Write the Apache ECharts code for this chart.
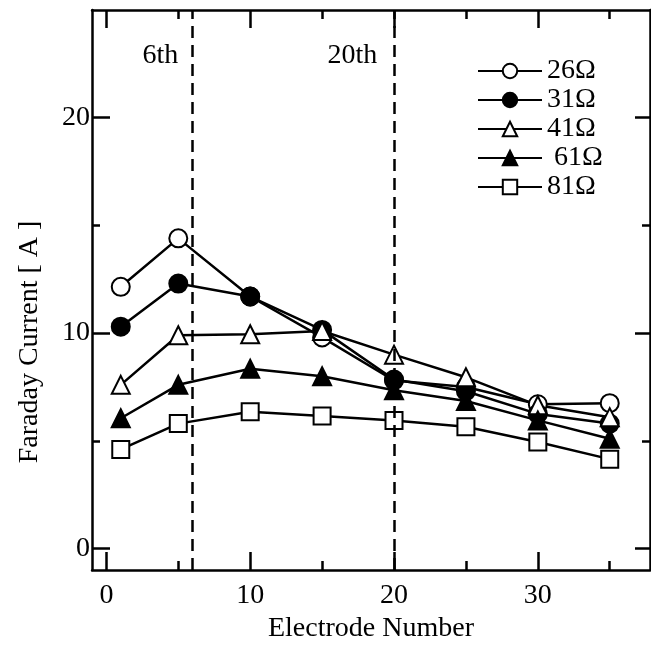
<!DOCTYPE html>
<html><head><meta charset="utf-8">
<script src="https://cdn.jsdelivr.net/npm/echarts@6/dist/echarts.min.js"></script>
<style>html,body{margin:0;padding:0;background:#fff}#c{width:651px;height:648px}</style>
</head><body><div id="c"></div>
<script>
// ---- data ----
const electrodes = [1, 5, 10, 15, 20, 25, 30, 35];
const r26 = [12.15, 14.4, 11.7, 9.8, 7.8, 7.5, 6.7, 6.75];
const r31 = [10.3, 12.3, 11.7, 10.15, 7.85, 7.3, 6.25, 5.8];
const r41 = [7.6, 9.9, 9.95, 10.1, 9.0, 7.95, 6.65, 6.1];
const r61 = [6.05, 7.6, 8.35, 8.0, 7.35, 6.85, 5.95, 5.1];
const r81 = [4.6, 5.8, 6.35, 6.15, 5.95, 5.65, 4.95, 4.15];
const seriesNames = ['26Ω', '31Ω', '41Ω', ' 61Ω', '81Ω'];
const xMajorTicks = [0, 10, 20, 30];
const xMinorTicks = [5, 15, 25, 35];
const yMajorTicks = [0, 10, 20];
const yMinorTicks = [5, 15];
const guideLines = [6, 20];
const guideLabels = ['6th', '20th'];
const guideLabelX = [3.75, 17.1];
const guideLabelY = [22.9, 22.9];
const xTitle = 'Electrode Number';
const yTitle = 'Faraday Current [ A ]';

// ---- styling ----
const font = "'Liberation Serif', 'Times New Roman', serif";
const FS = 28;
const values = [r26, r31, r41, r61, r81];
const markers = [
  { symbol: 'circle', fill: '#fff', size: 18 },
  { symbol: 'circle', fill: '#000', size: 18 },
  { symbol: 'triangle', fill: '#fff', size: 18 },
  { symbol: 'triangle', fill: '#000', size: 18 },
  { symbol: 'rect', fill: '#fff', size: 17 }
];
const X_MIN = -1, X_MAX = 37.8, Y_MIN = -1, Y_MAX = 25;
const lineCol = '#000';

function xAx(pos, ticks, len, main) {
  return {
    type: 'value', position: pos, min: X_MIN, max: X_MAX,
    axisLine: { show: main, onZero: false, lineStyle: { color: lineCol, width: 2.5 } },
    axisTick: { show: true, inside: true, length: len, customValues: ticks, lineStyle: { color: lineCol, width: 2.5 } },
    axisLabel: (main && pos === 'bottom') ? { show: true, customValues: ticks, margin: 12, fontSize: FS, fontFamily: font, color: '#000' } : { show: false },
    splitLine: { show: false },
    name: (main && pos === 'bottom') ? xTitle : '',
    nameLocation: 'middle', nameGap: 35,
    nameTextStyle: { fontSize: FS, fontFamily: font, color: '#000' }
  };
}
function yAx(pos, ticks, len, main) {
  return {
    type: 'value', position: pos, min: Y_MIN, max: Y_MAX,
    axisLine: { show: main, onZero: false, lineStyle: { color: lineCol, width: 2.5 } },
    axisTick: { show: true, inside: true, length: len, customValues: ticks, lineStyle: { color: lineCol, width: 2.5 } },
    axisLabel: (main && pos === 'left') ? { show: true, customValues: ticks, margin: 2, fontSize: FS, fontFamily: font, color: '#000' } : { show: false },
    splitLine: { show: false }
  };
}

const series = values.map((vals, i) => {
  const s = {
    name: seriesNames[i], type: 'line',
    xAxisIndex: 0, yAxisIndex: 0,
    data: electrodes.map((x, j) => [x, vals[j]]),
    symbol: markers[i].symbol, symbolSize: markers[i].size,
    showAllSymbol: true,
    lineStyle: { color: '#000', width: 2.5 },
    itemStyle: { color: markers[i].fill, borderColor: '#000', borderWidth: 2 },
    emphasis: { disabled: true },
    animation: false
  };
  if (i === 0) {
    s.markLine = {
      silent: true, symbol: ['none', 'none'], animation: false,
      label: { show: false },
      lineStyle: { type: [12, 7], color: '#000', width: 2.5 },
      data: guideLines.map(v => ({ xAxis: v }))
    };
    s.markPoint = {
      silent: true, animation: false,
      symbol: 'circle', symbolSize: 1,
      itemStyle: { color: 'rgba(0,0,0,0)' },
      label: { show: true, position: 'inside', formatter: '{b}', fontSize: FS, fontFamily: font, color: '#000' },
      data: guideLabels.map((t, k) => ({ name: t, coord: [guideLabelX[k], guideLabelY[k]] }))
    };
  }
  return s;
});

const chart = echarts.init(document.getElementById('c'), null, { renderer: 'canvas' });
chart.setOption({
  backgroundColor: '#fff',
  animation: false,
  grid: { left: 92, right: 1, top: 10, bottom: 67, containLabel: false },
  xAxis: [
    xAx('bottom', xMajorTicks, 18, true),
    xAx('bottom', xMinorTicks, 9, false),
    xAx('top', xMajorTicks, 18, true),
    xAx('top', xMinorTicks, 9, false)
  ],
  yAxis: [
    yAx('left', yMajorTicks, 18, true),
    yAx('left', yMinorTicks, 8, false),
    yAx('right', yMajorTicks, 15, true),
    yAx('right', yMinorTicks, 8, false)
  ],
  legend: {
    orient: 'vertical', left: 477, top: 57, padding: 0,
    itemWidth: 64, itemHeight: 18, itemGap: 1,
    textStyle: { fontSize: FS, fontFamily: font, color: '#000', lineHeight: 28 },
    data: seriesNames
  },
  graphic: [{
    type: 'text', x: 30, y: 342, rotation: Math.PI / 2,
    style: { text: yTitle, fontSize: FS, fontFamily: font, fill: '#000', align: 'center', verticalAlign: 'middle' }
  }],
  series: series
});
</script>
</body></html>
